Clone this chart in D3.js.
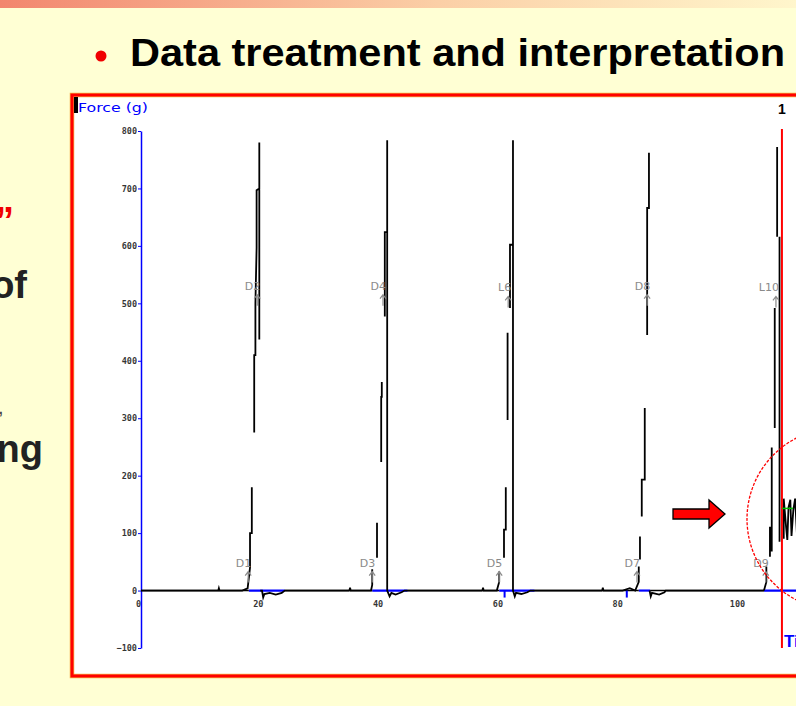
<!DOCTYPE html>
<html><head><meta charset="utf-8">
<script src="https://cdn.jsdelivr.net/npm/d3@7"></script>
<style>html,body{margin:0;padding:0;background:#FFFFD4;overflow:hidden}svg{display:block}</style>
</head><body>
<script>
// ---------- data ----------
const titleText = "Data treatment and interpretation";
const sideFragments = ["\u201D", "of", "ng"];
const timeTicks = [0, 20, 40, 60, 80, 100];
const forceTicks = [-100, 0, 100, 200, 300, 400, 500, 600, 700, 800];
const N = NaN;
// [time (s), force (g)] — NaN breaks the trace where the plot shows a gap
const cycle1 = [[0,0],[12.9,0],[13.0,4],[13.1,0],[16.9,0],[17.8,4],[18.2,40],[18.2,100],[18.5,100],[18.5,180],[N,N],
  [18.9,275],[18.9,410],[19.1,410],[19.1,500],[19.3,597],[19.3,697],[19.75,700],[19.75,780],[19.75,437],[N,N],
  [19.9,0],[20.2,0],[20.4,-12],[20.6,-6],[21.5,-4],[22.5,-7],[23.5,-4],[24,0],[34.8,0]];
const cycle2 = [[34.8,0],[34.9,5],[35.0,0],[38.4,0],[38.6,10],[38.6,37],[N,N],[39.4,57],[39.4,118],[N,N],
  [40.1,224],[40.1,337],[40.2,337],[40.2,363],[N,N],[40.7,477],[40.7,624],[41.1,624],[41.1,784],[41.1,0],
  [41.5,-10],[41.8,-4],[42.5,-7],[43.5,-3],[44,0],[57.0,0]];
const cycle3 = [[57.0,0],[57.1,5],[57.2,0],[59.4,0],[59.8,15],[59.8,33],[N,N],[60.6,57],[60.6,106],[60.9,106],[60.9,180],[N,N],
  [61.2,297],[61.2,449],[N,N],[61.6,492],[61.6,602],[62.1,602],[62.1,784],[62.1,0],
  [62.4,-10],[62.6,-4],[63.5,-6],[64.5,-3],[65,0],[77.0,0]];
const cycle4 = [[77.0,0],[77.1,5],[77.2,0],[80.4,0],[81.6,4],[82.5,0],[83.1,15],[83.1,42],[N,N],[83.3,54],[83.3,94],[N,N],
  [83.6,129],[83.6,193],[84.1,193],[84.1,318],[N,N],[84.5,445],[84.5,666],[84.8,666],[84.8,762],[N,N],
  [84.9,0],[85.1,-10],[85.3,-4],[86.5,-7],[87.4,-3],[87.6,0],[104.0,0]];
const cycle5 = [[104.0,0],[104.4,15],[104.4,42],[N,N],[105.0,59],[105.0,111],[N,N],[105.3,68],[105.3,249],[N,N],
  [105.8,283],[105.8,492],[N,N],[106.2,616],[106.2,772],[N,N],[106.6,616],[106.6,85],[N,N],
  [107.3,90],[107.3,160],[107.7,110],[107.9,88],[108.1,145],[108.4,158],[108.6,95],[108.9,140],[109.2,160],[109.5,100]];
const traces = [cycle1, cycle2, cycle3, cycle4, cycle5];
const markerNames = ["D1","D2","D3","D4","D5","L6","D7","D8","D9","L10"];
const markerTimes = [17.9, 19.4, 38.6, 40.4, 59.8, 61.3, 82.8, 84.5, 104.3, 106.0];
const markerForces = [33, 515, 33, 515, 33, 512, 33, 515, 33, 512];
const selStart = [18.0, 38.6, 59.8, 83.1, 104.0];
const selEnd = [24.0, 44.5, 65.7, 85.0, 112.0];
const blueTickTimes = [60.7, 81.1];
const cursorTime = 107.0;
const cursorLabel = "1";
const greenMarkForce = 143;

// ---------- drawing ----------
const W = 796, H = 706;
const svg = d3.select("body").append("svg").attr("width", W).attr("height", H);
const defs = svg.append("defs");
const grad = defs.append("linearGradient").attr("id","topg").attr("x1","0").attr("x2","1");
grad.append("stop").attr("offset","0").attr("stop-color","#F2866E");
grad.append("stop").attr("offset","0.55").attr("stop-color","#FBCFA6");
grad.append("stop").attr("offset","1").attr("stop-color","#FFF6CC");
svg.append("rect").attr("width",W).attr("height",H).attr("fill","#FFFFD4");
svg.append("rect").attr("width",W).attr("height",8).attr("fill","url(#topg)");

// title
svg.append("circle").attr("cx",101).attr("cy",56).attr("r",5.5).attr("fill","#F00000");
svg.append("text").attr("x",130).attr("y",66).text(titleText)
  .attr("font-family","Liberation Sans, Arial, sans-serif").attr("font-weight","bold")
  .attr("font-size",38).attr("fill","#000")
  .attr("textLength",655).attr("lengthAdjust","spacingAndGlyphs");

// left fragments (cut off at the slide edge, as in the reference)
const fragX = [14, 27, 43], fragY = [234, 298, 462], fragC = ["#F00000","#222","#222"];
sideFragments.forEach((s,i)=>{
  svg.append("text").attr("x",fragX[i]).attr("y",fragY[i]).attr("text-anchor","end").text(s)
    .attr("font-family","Liberation Sans, Arial, sans-serif").attr("font-weight","bold")
    .attr("font-size",38).attr("fill",fragC[i]);
});
svg.append("text").attr("x",-2).attr("y",414).text(",").attr("font-family","Liberation Sans, Arial, sans-serif")
  .attr("font-size",20).attr("fill","#444");

// chart frame
svg.append("rect").attr("x",72).attr("y",95).attr("width",760).attr("height",581)
  .attr("fill","#fff").attr("stroke","#F4B040").attr("stroke-width",4.5);
svg.append("rect").attr("x",72).attr("y",95).attr("width",760).attr("height",581)
  .attr("fill","none").attr("stroke","#FF0000").attr("stroke-width",3);

const x = d3.scaleLinear().domain([0,100]).range([141,740]);
const y = d3.scaleLinear().domain([-100,800]).range([648,131]);

defs.append("clipPath").attr("id","plotclip").append("rect").attr("x",74).attr("y",97).attr("width",756).attr("height",577);
const g = svg.append("g").attr("clip-path","url(#plotclip)");

// Force label
g.append("rect").attr("x",74).attr("y",97).attr("width",4).attr("height",16).attr("fill","#000");
g.append("text").attr("x",78).attr("y",112).text("Force (g)")
  .attr("font-family","DejaVu Sans, sans-serif").attr("font-size",13).attr("fill","#0000FF")
  .attr("textLength",70).attr("lengthAdjust","spacingAndGlyphs");

// y axis
const yAxis = g.append("g").attr("transform",`translate(${x(0)},0)`)
  .call(d3.axisLeft(y).tickValues(forceTicks).tickSize(3).tickSizeOuter(0).tickFormat(d3.format("d")));
yAxis.select(".domain").attr("stroke","#0000FF").attr("stroke-width",1.5);
yAxis.selectAll(".tick line").attr("stroke","#0000FF");
yAxis.selectAll(".tick text").attr("fill","#111").attr("font-family","DejaVu Sans Mono, monospace")
  .attr("font-size",8.5).attr("x",-4).attr("font-weight","bold").attr("opacity",0.85);

// selection (blue) segments along baseline
selStart.forEach((s,i)=>{
  g.append("line").attr("x1",x(s)).attr("x2",x(selEnd[i])).attr("y1",y(0)).attr("y2",y(0))
    .attr("stroke","#0000FF").attr("stroke-width",2.2);
});
// x axis baseline
g.append("line").attr("x1",x(0)).attr("x2",x(selStart[0])).attr("y1",y(0)).attr("y2",y(0)).attr("stroke","#000").attr("stroke-width",1.5);
for (let i=0;i<selStart.length-1;i++){
  g.append("line").attr("x1",x(selEnd[i])).attr("x2",x(selStart[i+1])).attr("y1",y(0)).attr("y2",y(0)).attr("stroke","#000").attr("stroke-width",1.5);
}
blueTickTimes.forEach(t=>{
  g.append("line").attr("x1",x(t)).attr("x2",x(t)).attr("y1",y(0)).attr("y2",y(0)+7).attr("stroke","#0000FF").attr("stroke-width",2);
});

const xAxis = g.append("g").attr("transform",`translate(-3,${y(0)})`)
  .call(d3.axisBottom(x).tickValues(timeTicks).tickSize(0).tickPadding(10).tickFormat(d3.format("d")));
xAxis.select(".domain").remove();
xAxis.selectAll(".tick text").attr("fill","#111").attr("font-family","DejaVu Sans Mono, monospace")
  .attr("font-size",8.5).attr("font-weight","bold").attr("opacity",0.85);

// traces
const line = d3.line().defined(d=>!isNaN(d[0])).x(d=>x(d[0])).y(d=>y(d[1]));
traces.forEach(tr=>{
  g.append("path").datum(tr).attr("d",line).attr("fill","none").attr("stroke","#000").attr("stroke-width",1.8);
});

// markers
markerNames.forEach((n,i)=>{
  const mx = x(markerTimes[i]), my = y(markerForces[i]);
  g.append("path").attr("d",`M${mx},${my+11}V${my}M${mx-3},${my+4}L${mx},${my}L${mx+3},${my+4}`)
    .attr("stroke","#8a8a8a").attr("stroke-width",1.2).attr("fill","none");
  g.append("text").attr("x",mx+3).attr("y",my-5).attr("text-anchor","end").text(n)
    .attr("font-family","DejaVu Sans, sans-serif").attr("font-size",11).attr("fill","#8a8a8a");
});

// cursor
g.append("line").attr("x1",x(cursorTime)).attr("x2",x(cursorTime)).attr("y1",y(800)-2).attr("y2",y(-100))
  .attr("stroke","#FF0000").attr("stroke-width",2);
g.append("line").attr("x1",x(cursorTime)).attr("x2",x(cursorTime)+11).attr("y1",y(greenMarkForce)).attr("y2",y(greenMarkForce))
  .attr("stroke","#00C000").attr("stroke-width",1.5);
g.append("text").attr("x",x(cursorTime)).attr("y",114).attr("text-anchor","middle").text(cursorLabel)
  .attr("font-family","Liberation Sans, Arial, sans-serif").attr("font-weight","bold").attr("font-size",14).attr("fill","#000");
g.append("text").attr("x",x(cursorTime)+2).attr("y",647).text("Time (sec)")
  .attr("font-family","Liberation Sans, Arial, sans-serif").attr("font-weight","bold").attr("font-size",17).attr("fill","#0000FF");

// annotation circle and arrow
svg.append("circle").attr("cx",838).attr("cy",519).attr("r",91).attr("fill","none")
  .attr("stroke","#FF0000").attr("stroke-width",1.3).attr("stroke-dasharray","3,1.5");
svg.append("path").attr("d","M673,509H709V500L725,514L709,528V519H673Z")
  .attr("fill","#FF0000").attr("stroke","#000").attr("stroke-width",1.3);
</script>
</body></html>
